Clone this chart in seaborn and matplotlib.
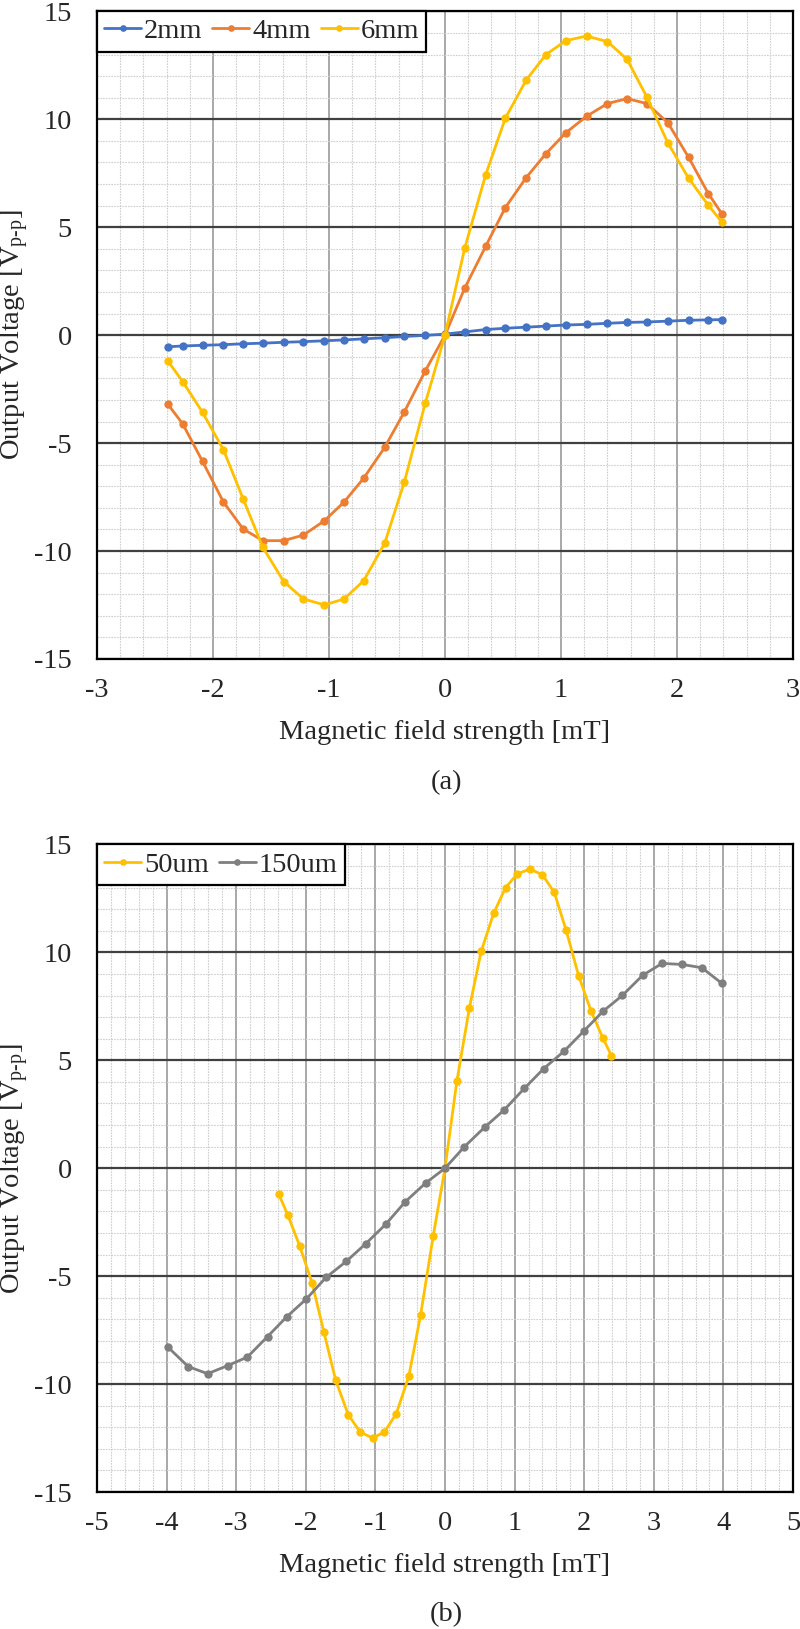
import pandas as pd
import seaborn as sns
import matplotlib.pyplot as plt
from matplotlib.ticker import MultipleLocator

# dane
field_a = [-2.39, -2.26, -2.09, -1.91, -1.74, -1.57, -1.39, -1.22, -1.04, -0.87, -0.70, -0.52, -0.35, -0.17, 0.0,
           0.17, 0.35, 0.52, 0.70, 0.87, 1.04, 1.22, 1.40, 1.57, 1.74, 1.92, 2.10, 2.27, 2.39]
v_2mm = [-0.54, -0.50, -0.47, -0.44, -0.40, -0.37, -0.33, -0.30, -0.26, -0.22, -0.17, -0.12, -0.06, -0.01, 0.05,
         0.15, 0.26, 0.32, 0.37, 0.42, 0.47, 0.50, 0.55, 0.59, 0.61, 0.65, 0.69, 0.71, 0.72]
v_4mm = [-3.19, -4.12, -5.85, -7.73, -8.98, -9.52, -9.52, -9.26, -8.60, -7.73, -6.62, -5.20, -3.55, -1.65, 0.0,
         2.18, 4.11, 5.91, 7.30, 8.41, 9.37, 10.14, 10.73, 10.96, 10.73, 9.85, 8.24, 6.56, 5.60]
v_6mm = [-1.19, -2.16, -3.58, -5.31, -7.59, -9.83, -11.42, -12.22, -12.50, -12.22, -11.37, -9.64, -6.79, -3.15, 0.0,
         4.03, 7.42, 10.05, 11.82, 13.00, 13.64, 13.86, 13.60, 12.78, 11.03, 8.92, 7.27, 6.02, 5.22]

field_b = [-3.98, -3.69, -3.41, -3.12, -2.84, -2.55, -2.27, -1.99, -1.71, -1.42, -1.14, -0.85, -0.57, -0.28, 0.0,
           0.28, 0.57, 0.85, 1.14, 1.42, 1.71, 1.99, 2.27, 2.55, 2.84, 3.12, 3.41, 3.69, 3.98]
v_150um = [-8.29, -9.19, -9.52, -9.14, -8.75, -7.80, -6.87, -6.05, -5.06, -4.32, -3.50, -2.59, -1.55, -0.69, 0.0,
           1.00, 1.90, 2.70, 3.70, 4.62, 5.42, 6.34, 7.27, 8.01, 8.94, 9.49, 9.44, 9.29, 8.56]

labels_a = ['2mm', '4mm', '6mm']
labels_b = ['50um', '150um']
colors = {'2mm': '#4472C4', '4mm': '#ED7D31', '6mm': '#FFC000',
          '50um': '#FFC000', '150um': '#7F7F7F'}

sns.set_style("white")
plt.rcParams['font.family'] = ['Liberation Serif', 'DejaVu Serif']
plt.rcParams['mathtext.fontset'] = 'custom'
plt.rcParams['mathtext.rm'] = 'Liberation Serif'
plt.rcParams['mathtext.it'] = 'Liberation Serif:italic'
plt.rcParams['axes.unicode_minus'] = False
FS = 20.5


def make_df(x, series, names):
    rows = []
    for name, vals in zip(names, series):
        for xi, yi in zip(x, vals):
            rows.append({'B': xi, 'V': yi, 'sample': name})
    return pd.DataFrame(rows)


df_a = make_df(field_a, [v_2mm, v_4mm, v_6mm], labels_a)
df_b = pd.concat([make_df(field_a, [v_6mm], ['50um']),
                  make_df(field_b, [v_150um], ['150um'])], ignore_index=True)


def style_axes(ax, xlim, names):
    ax.set_xlim(*xlim)
    ax.set_ylim(-15, 15)
    ax.xaxis.set_major_locator(MultipleLocator(1))
    ax.xaxis.set_minor_locator(MultipleLocator(0.2))
    ax.yaxis.set_major_locator(MultipleLocator(5))
    ax.yaxis.set_minor_locator(MultipleLocator(1))
    ax.set_axisbelow(True)
    ax.grid(which='minor', axis='both', color='#cfcfcf', lw=0.8, ls=(0, (1.5, 1)))
    ax.grid(which='major', axis='x', color='#9a9a9a', lw=1.2, ls='-')
    ax.grid(which='major', axis='y', color='#404040', lw=1.6, ls='-')
    ax.tick_params(which='both', length=0)
    ax.tick_params(axis='y', pad=18, labelsize=FS)
    ax.tick_params(axis='x', pad=14, labelsize=FS)
    for s in ax.spines.values():
        s.set_visible(True)
        s.set_color('black')
        s.set_linewidth(1.6)
    ax.set_xlabel('Magnetic field strength [mT]', fontsize=FS)
    ax.xaxis.set_label_coords(0.5, -0.114)
    ax.xaxis.label.set_va('center')
    ax.set_ylabel(r'Output Voltage [V$_{\text{p-p}}$]', fontsize=FS)
    ax.yaxis.set_label_coords(-0.118, 0.5)
    ax.yaxis.label.set_va('center')

    handles, lbls = ax.get_legend_handles_labels()
    ax.legend(handles, lbls, ncol=len(names), loc='upper left', fontsize=FS,
              frameon=True, fancybox=False, framealpha=1, edgecolor='black',
              borderaxespad=0, handlelength=1.3, handletextpad=0.1, columnspacing=0.35,
              borderpad=0.25, markerscale=0.8).get_frame().set_linewidth(1.6)


fig = plt.figure(figsize=(8, 16.29), dpi=100)
ax1 = fig.add_axes([0.12125, 0.5955, 0.87, 0.3975])
ax2 = fig.add_axes([0.12125, 0.0841, 0.87, 0.3975])

sns.lineplot(data=df_a, x='B', y='V', hue='sample', hue_order=labels_a, palette=colors,
             marker='o', markersize=6, markeredgewidth=0, linewidth=2, ax=ax1)
style_axes(ax1, (-3, 3), labels_a)

sns.lineplot(data=df_b, x='B', y='V', hue='sample', hue_order=labels_b, palette=colors,
             marker='o', markersize=6, markeredgewidth=0, linewidth=2, ax=ax2)
style_axes(ax2, (-5, 5), labels_b)

fig.text(0.5575, 1 - 783 / 1629, '(a)', ha='center', va='center', fontsize=FS)
fig.text(0.5575, 1 - 1615 / 1629, '(b)', ha='center', va='center', fontsize=FS)

fig.savefig('out.png', dpi=100)
